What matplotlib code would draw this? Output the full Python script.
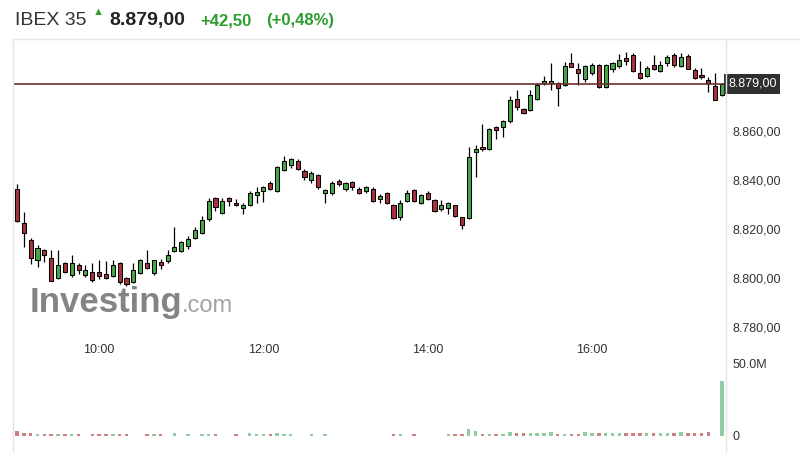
import matplotlib
matplotlib.use("Agg")
import matplotlib.pyplot as plt
from matplotlib.lines import Line2D
import numpy as np

# 5-minute candles, first one at 09:00
start_time = "09:00"
bar_minutes = 5

opens = [
    8836.3, 8822.6, 8815.6, 8807.4, 8811.4, 8808.4, 8800.2, 8806.2, 8801.3, 8805.4,
    8801.3, 8802.4, 8802.4, 8801.6, 8801.1, 8806.2, 8800.2, 8798.4, 8802.3, 8806.1,
    8802.0, 8806.6, 8807.2, 8811.2, 8811.2, 8813.1, 8816.4, 8818.3, 8824.2, 8832.6,
    8826.7, 8832.6, 8830.7, 8828.6, 8829.7, 8833.7, 8835.6, 8838.6, 8835.6, 8844.0,
    8846.2, 8847.8, 8843.7, 8840.0, 8841.9, 8834.8, 8834.6, 8839.4, 8836.2, 8839.1,
    8836.4, 8835.4, 8836.4, 8832.1, 8834.8, 8829.7, 8825.0, 8831.5, 8835.9, 8830.5,
    8834.8, 8831.8, 8828.3, 8828.6, 8829.7, 8824.8, 8824.5, 8851.3, 8853.2, 8852.7,
    8861.6, 8861.4, 8863.8, 8872.8, 8868.7, 8868.4, 8873.0, 8879.3, 8879.3, 8879.3,
    8878.7, 8887.4, 8885.2, 8881.1, 8883.5, 8886.6, 8877.9, 8885.2, 8886.3, 8889.6,
    8890.9, 8883.6, 8882.2, 8886.6, 8884.4, 8887.4, 8890.6, 8886.3, 8890.4, 8884.7,
    8882.8, 8880.6, 8878.2, 8874.5,
]
highs = [
    8838.3, 8826.8, 8816.5, 8813.5, 8811.9, 8811.4, 8811.6, 8806.6, 8809.5, 8806.2,
    8805.4, 8806.2, 8807.3, 8807.0, 8807.3, 8806.6, 8800.6, 8806.3, 8808.0, 8811.5,
    8807.6, 8807.7, 8811.5, 8820.7, 8815.2, 8817.0, 8821.0, 8825.3, 8832.6, 8832.9,
    8832.6, 8832.9, 8832.1, 8830.5, 8835.4, 8837.3, 8837.6, 8839.6, 8845.8, 8849.7,
    8849.1, 8848.3, 8844.5, 8843.6, 8842.5, 8836.2, 8839.4, 8840.2, 8839.0, 8839.4,
    8837.0, 8837.6, 8837.2, 8834.3, 8835.2, 8830.0, 8831.8, 8835.9, 8836.3, 8834.2,
    8835.6, 8832.2, 8831.8, 8831.0, 8829.9, 8825.0, 8853.5, 8854.3, 8862.7, 8861.2,
    8862.0, 8864.2, 8874.0, 8876.5, 8869.2, 8876.5, 8879.5, 8882.2, 8887.4, 8880.0,
    8887.9, 8891.5, 8887.4, 8886.6, 8887.5, 8887.2, 8887.2, 8887.9, 8891.0, 8892.1,
    8891.5, 8888.5, 8886.3, 8890.9, 8888.5, 8890.9, 8891.5, 8891.5, 8891.2, 8885.5,
    8885.5, 8882.0, 8883.6, 8879.5,
]
lows = [
    8822.8, 8812.8, 8805.7, 8804.7, 8806.5, 8798.7, 8799.8, 8802.0, 8800.7, 8801.9,
    8800.7, 8798.6, 8799.7, 8799.7, 8800.5, 8797.8, 8796.7, 8797.9, 8801.8, 8803.8,
    8801.5, 8803.9, 8806.0, 8810.8, 8810.8, 8812.0, 8815.8, 8817.8, 8823.3, 8827.2,
    8826.0, 8829.4, 8829.2, 8826.2, 8829.2, 8830.5, 8831.0, 8835.9, 8835.2, 8843.5,
    8844.9, 8844.0, 8839.9, 8838.9, 8836.4, 8830.5, 8834.0, 8837.5, 8835.6, 8836.0,
    8834.4, 8834.6, 8831.2, 8830.7, 8830.2, 8824.0, 8823.7, 8831.2, 8831.2, 8830.0,
    8831.8, 8826.9, 8827.5, 8826.0, 8825.0, 8820.0, 8824.0, 8841.0, 8851.8, 8852.0,
    8856.7, 8857.6, 8863.0, 8868.4, 8866.7, 8867.9, 8872.6, 8878.7, 8876.5, 8870.0,
    8878.2, 8885.8, 8878.7, 8880.0, 8882.5, 8877.4, 8877.4, 8883.8, 8885.5, 8886.8,
    8883.9, 8881.0, 8881.8, 8884.7, 8883.9, 8886.3, 8885.8, 8885.8, 8884.9, 8881.0,
    8881.2, 8875.7, 8872.5, 8874.0,
]
closes = [
    8823.3, 8818.5, 8808.1, 8812.4, 8809.5, 8798.9, 8805.4, 8802.4, 8806.2, 8803.3,
    8803.3, 8799.2, 8801.1, 8800.0, 8805.4, 8798.4, 8797.8, 8803.3, 8807.4, 8804.2,
    8807.4, 8805.3, 8809.6, 8812.6, 8814.8, 8815.9, 8819.6, 8823.7, 8831.5, 8828.9,
    8831.5, 8831.5, 8829.7, 8829.9, 8834.6, 8835.0, 8837.2, 8836.2, 8845.4, 8847.8,
    8848.4, 8844.3, 8841.3, 8842.7, 8837.2, 8835.9, 8838.6, 8838.3, 8838.6, 8837.0,
    8834.8, 8837.0, 8831.5, 8833.5, 8830.5, 8824.5, 8830.7, 8834.8, 8831.5, 8833.7,
    8832.4, 8827.2, 8829.7, 8830.7, 8825.3, 8821.5, 8849.4, 8852.7, 8852.4, 8860.8,
    8860.3, 8863.8, 8872.5, 8869.8, 8867.1, 8874.4, 8878.7, 8880.3, 8880.3, 8877.4,
    8886.3, 8886.0, 8883.3, 8886.3, 8886.9, 8877.9, 8886.6, 8887.4, 8888.7, 8888.2,
    8884.4, 8881.4, 8885.5, 8885.2, 8886.8, 8890.1, 8886.6, 8889.8, 8885.2, 8881.4,
    8881.7, 8879.3, 8872.5, 8879.0,
]
# volume in millions (0 = no bar shown)
volumes = [
    3.7, 2.3, 2.3, 1.4, 1.4, 1.4, 1.4, 1.4, 1.4, 1.4,
    0.0, 1.4, 1.4, 1.4, 1.4, 1.4, 1.4, 0.0, 0.0, 1.4,
    1.4, 1.4, 0.0, 2.0, 0.0, 1.4, 0.0, 1.4, 1.4, 1.4,
    0.0, 0.0, 1.4, 0.0, 2.0, 1.4, 1.4, 1.4, 2.2, 1.4,
    1.4, 0.0, 0.0, 1.4, 0.0, 1.4, 0.0, 0.0, 0.0, 0.0,
    0.0, 0.0, 0.0, 0.0, 0.0, 1.4, 1.4, 0.0, 1.4, 0.0,
    0.0, 0.0, 0.0, 1.4, 1.4, 1.4, 5.0, 3.7, 1.6, 1.6,
    1.6, 1.6, 3.0, 1.8, 1.8, 1.8, 1.8, 1.8, 3.0, 1.6,
    1.6, 1.6, 1.6, 3.0, 1.8, 1.8, 1.8, 1.8, 1.8, 1.8,
    1.8, 1.8, 1.8, 1.8, 1.8, 1.8, 1.8, 3.0, 1.8, 1.8,
    1.8, 2.8, 0.0, 37.8,
]

time_ticks = ["10:00", "12:00", "14:00", "16:00"]
price_ticks = [8780, 8800, 8820, 8840, 8860]
volume_ticks = [0, 50]
volume_tick_labels = ["0", "50.0M"]

last_price = 8879.00
change = 42.50
change_pct = 0.48

UP = "#45a845"
DOWN = "#a8323c"
VOL_UP = "#8ecba2"
VOL_DOWN = "#cf8080"
TEXT = "#333333"
BORDER = "#e4e4e4"

W, H = 800, 453


def es_num(v, decimals=2):
    s = f"{v:,.{decimals}f}"
    return s.replace(",", "X").replace(".", ",").replace("X", ".")


def minutes_index(label):
    h, m = label.split(":")
    h0, m0 = start_time.split(":")
    return ((int(h) * 60 + int(m)) - (int(h0) * 60 + int(m0))) / bar_minutes


def fx(px):
    return px / W


def fy(px):
    return 1 - px / H


def main():
    plt.rcParams["font.family"] = ["Liberation Sans", "DejaVu Sans"]

    o = np.array(opens)
    h = np.array(highs)
    lo = np.array(lows)
    c = np.array(closes)
    v = np.array(volumes) * 1e6
    idx = np.arange(len(o))
    up = c >= o

    fig = plt.figure(figsize=(W / 100, H / 100), dpi=100)

    left, right = 13, 726
    ax = fig.add_axes([fx(left), fy(338), fx(right - left), (338 - 39) / H])
    vax = fig.add_axes([fx(left), fy(436), fx(right - left), (436 - 355) / H])

    xlim = (-0.58, len(o) - 1 + 0.58)

    # watermark behind the candles
    ax.text(0.024, 0.088, "Investing", transform=ax.transAxes, fontsize=25,
            fontweight="bold", color="#848484", ha="left", va="baseline", zorder=0)
    ax.text(0.237, 0.088, ".com", transform=ax.transAxes, fontsize=17,
            color="#a4a4a4", ha="left", va="baseline", zorder=0)

    # candles
    ax.vlines(idx, lo, h, color="black", linewidth=0.9, zorder=2)
    body_bottom = np.minimum(o, c)
    body_h = np.maximum(np.abs(c - o), 0.4)
    ax.bar(idx, body_h, bottom=body_bottom, width=0.6,
           color=np.where(up, UP, DOWN), edgecolor="black", linewidth=0.75, zorder=3)

    ax.axhline(last_price, color="#6e2f2f", linewidth=1.2, zorder=4)
    ax.text(1.003, last_price, es_num(last_price), transform=ax.get_yaxis_transform(),
            color="white", fontsize=9, ha="left", va="center", clip_on=False,
            bbox=dict(boxstyle="square,pad=0.3", fc="#2f2f2f", ec="none"), zorder=5)

    ax.set_xlim(*xlim)
    ax.set_ylim(8775.7, 8897.3)
    ax.yaxis.tick_right()
    ax.set_yticks(price_ticks)
    ax.set_yticklabels([es_num(p) for p in price_ticks])
    ax.set_xticks([minutes_index(t) for t in time_ticks])
    ax.set_xticklabels(time_ticks)
    ax.tick_params(axis="y", length=0, pad=5, labelsize=9, labelcolor=TEXT)
    ax.tick_params(axis="x", length=0, pad=4, labelsize=9, labelcolor=TEXT)
    for s in ax.spines.values():
        s.set_visible(False)
    ax.patch.set_alpha(0)

    # volume
    shown = v > 0
    vax.bar(idx[shown], v[shown], width=0.5,
            color=np.where(up[shown], VOL_UP, VOL_DOWN), linewidth=0)
    vax.set_xlim(*xlim)
    vax.set_ylim(0, 55.5e6)
    vax.yaxis.tick_right()
    vax.set_yticks([t * 1e6 for t in volume_ticks])
    vax.set_yticklabels(volume_tick_labels)
    vax.set_xticks([])
    vax.tick_params(axis="y", length=0, pad=5, labelsize=9, labelcolor=TEXT)
    for s in vax.spines.values():
        s.set_visible(False)
    vax.patch.set_alpha(0)

    # frame lines
    fig.add_artist(Line2D([fx(left), 1], [fy(39), fy(39)], color=BORDER, lw=1))
    fig.add_artist(Line2D([fx(left), fx(left)], [fy(39), 0], color=BORDER, lw=1))
    fig.add_artist(Line2D([fx(right), fx(right)], [fy(39), 0], color=BORDER, lw=1))

    # header
    base = fy(25)
    fig.text(fx(15), base, "IBEX 35", fontsize=14, color=TEXT, va="baseline")
    fig.text(fx(93), fy(12), "▲", fontsize=8, color="#2e9e2e", va="center")
    fig.text(fx(109), base, es_num(last_price), fontsize=14, fontweight="bold",
             color="#222222", va="baseline")
    fig.text(fx(200), base, "+" + es_num(change), fontsize=12, fontweight="bold",
             color="#2e9e2e", va="baseline")
    fig.text(fx(266), base, "(+" + es_num(change_pct) + "%)", fontsize=12,
             fontweight="bold", color="#2e9e2e", va="baseline")

    fig.savefig("out.png", dpi=100)


if __name__ == "__main__":
    main()
